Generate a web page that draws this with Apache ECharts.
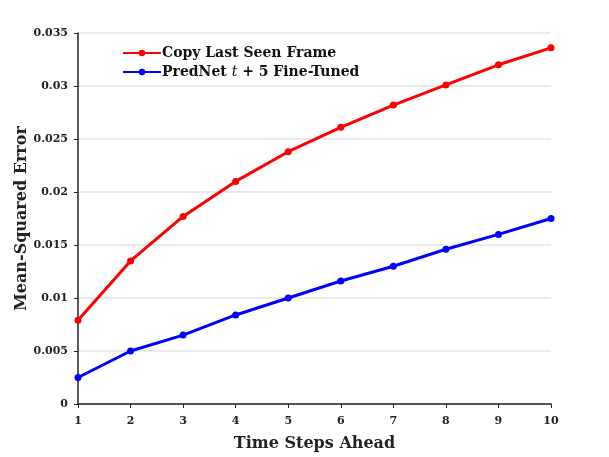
<!DOCTYPE html>
<html>
<head>
<meta charset="utf-8">
<script src="https://cdn.jsdelivr.net/npm/echarts@6/dist/echarts.min.js"></script>
<style>
  html, body { margin: 0; padding: 0; background: #fff; }
  #main { width: 609px; height: 457px; }
</style>
</head>
<body>
<div id="main"></div>
<script>
var steps = [1, 2, 3, 4, 5, 6, 7, 8, 9, 10];
// 复制最后一帧
var copyLast = [0.0079, 0.0135, 0.0177, 0.0210, 0.0238, 0.0261, 0.0282, 0.0301, 0.0320, 0.0336];
// PredNet t+5 微调
var predNet = [0.0025, 0.0050, 0.0065, 0.0084, 0.0100, 0.0116, 0.0130, 0.0146, 0.0160, 0.0175];
var seriesNames = ['Copy Last Seen Frame', 'PredNet t + 5 Fine-Tuned'];

var font = '"DejaVu Serif", "Liberation Serif", serif';

function pairs(vals) {
  var out = [];
  for (var i = 0; i < steps.length; i++) {
    out.push([steps[i], vals[i]]);
  }
  return out;
}

var myChart = echarts.init(document.getElementById('main'));
var option = {
  animation: false,
  grid: { left: 78, right: 58, top: 33, bottom: 50 },
  legend: {
    left: 117,
    top: 41,
    orient: 'vertical',
    itemWidth: 38,
    itemHeight: 8,
    itemGap: 5,
    data: seriesNames,
    formatter: function (name) {
      if (name === seriesNames[1]) {
        return '{b|PredNet }{i|t}{b| + 5 Fine-Tuned}';
      }
      return '{b|' + name + '}';
    },
    textStyle: {
      padding: [0, 0, 0, -4],
      rich: {
        b: { fontFamily: font, fontWeight: 'bold', fontSize: 14, color: '#111' },
        i: { fontFamily: font, fontStyle: 'italic', fontSize: 14, color: '#111' }
      }
    }
  },
  xAxis: {
    type: 'value',
    min: 1,
    max: 10,
    interval: 1,
    name: 'Time Steps Ahead',
    nameLocation: 'middle',
    nameGap: 32,
    nameMoveOverlap: false,
    nameTextStyle: { fontFamily: font, fontWeight: 'bold', fontSize: 16, color: '#222' },
    axisLine: { lineStyle: { color: '#222', width: 1.5 } },
    axisTick: { show: true, length: 4, lineStyle: { color: '#222' } },
    axisLabel: { fontFamily: font, fontWeight: 'bold', fontSize: 11, color: '#222', margin: 12 },
    splitLine: { show: false }
  },
  yAxis: {
    type: 'value',
    min: 0,
    max: 0.035,
    interval: 0.005,
    name: 'Mean-Squared Error',
    nameLocation: 'middle',
    nameGap: 48,
    nameMoveOverlap: false,
    nameTextStyle: { fontFamily: font, fontWeight: 'bold', fontSize: 16, color: '#222' },
    axisLine: { show: true, lineStyle: { color: '#222', width: 1.5 } },
    axisTick: { show: true, length: 4, lineStyle: { color: '#222' } },
    axisLabel: { fontFamily: font, fontWeight: 'bold', fontSize: 11, color: '#222', margin: 10 },
    splitLine: { show: true, lineStyle: { color: '#e3e3e3', width: 1.5 } }
  },
  series: [
    {
      name: seriesNames[0],
      type: 'line',
      data: pairs(copyLast),
      symbol: 'circle',
      symbolSize: 7,
      itemStyle: { color: '#ff0000' },
      lineStyle: { color: '#ff0000', width: 3 }
    },
    {
      name: seriesNames[1],
      type: 'line',
      data: pairs(predNet),
      symbol: 'circle',
      symbolSize: 7,
      itemStyle: { color: '#0000ff' },
      lineStyle: { color: '#0000ff', width: 3 }
    }
  ]
};
myChart.setOption(option);
</script>
</body>
</html>
